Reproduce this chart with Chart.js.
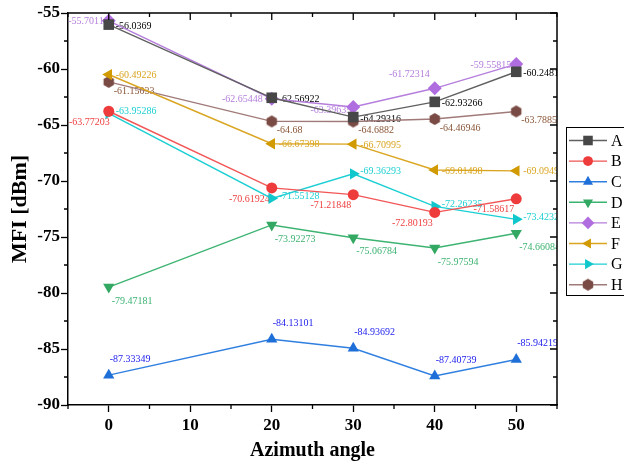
<!DOCTYPE html>
<html><head><meta charset="utf-8">
<script src="https://cdn.jsdelivr.net/npm/chart.js"></script>
<style>html,body{margin:0;padding:0;background:#fff}#wrap{width:624px;height:465px;position:relative}</style>
</head><body><div id="wrap"><canvas id="c" width="624" height="465"></canvas></div>
<script>
const angles = [0, 20, 30, 40, 50];
const seriesNames = ['A', 'B', 'C', 'D', 'E', 'F', 'G', 'H'];
const valuesA = [-56.0369, -62.56922, -64.29316, -62.93266, -60.24812];
const valuesB = [-63.77203, -70.61924, -71.21848, -72.80193, -71.58617];
const valuesC = [-87.33349, -84.13101, -84.93692, -87.40739, -85.94219];
const valuesD = [-79.47181, -73.92273, -75.06784, -75.97594, -74.66084];
const valuesE = [-55.70116, -62.65448, -63.39635, -61.72314, -59.55815];
const valuesF = [-60.49226, -66.67398, -66.70995, -69.01498, -69.09495];
const valuesG = [-63.95286, -71.55128, -69.36293, -72.26235, -73.4232];
const valuesH = [-61.15033, -64.68, -64.6882, -64.46946, -63.78852];
const xTicks = [0, 10, 20, 30, 40, 50];
const yTicks = [-90, -85, -80, -75, -70, -65, -60, -55];
const xTitle = 'Azimuth angle';
const yTitle = 'MFI [dBm]';

const FONT = "'Liberation Serif', 'Times New Roman', serif";

function hexCanvas(r, color) {
  const s = Math.ceil(2 * r + 2);
  const c = document.createElement('canvas');
  c.width = s; c.height = s;
  const g = c.getContext('2d');
  g.fillStyle = color;
  g.beginPath();
  for (let i = 0; i < 6; i++) {
    const a = Math.PI / 3 * i - Math.PI / 2;
    const px = s / 2 + r * Math.cos(a), py = s / 2 + r * Math.sin(a);
    if (i) g.lineTo(px, py); else g.moveTo(px, py);
  }
  g.closePath(); g.fill();
  return c;
}

const allValues = [valuesA, valuesB, valuesC, valuesD, valuesE, valuesF, valuesG, valuesH];
const styles = [
  {line: '#606060', marker: '#474747', text: '#000000', ps: 'rect', rot: 0, r: 7.5, lab: {dx: 7, dy: 2, align: 'left'}},
  {line: '#f25555', marker: '#ee3b3b', text: '#ee4040', ps: 'circle', rot: 0, r: 5.5, lab: {dx: -2, dy: 11, align: 'right', dxAt: {0: 1}}},
  {line: '#2f7fe0', marker: '#1f6fd8', text: '#2222ee', ps: 'triangle', rot: 0, r: 6.5, lab: {dx: 1, dy: -16, align: 'left'}},
  {line: '#3cb371', marker: '#33a862', text: '#3cb371', ps: 'triangle', rot: 180, r: 6.5, lab: {dx: 3, dy: 14, align: 'left'}},
  {line: '#b57edc', marker: '#b06de0', text: '#b57edc', ps: 'rectRot', rot: 0, r: 7, lab: {dx: -5, dy: 1, align: 'right', dxAt: {0: 0, 1: -9, 2: -2}, dyAt: {2: 3, 3: -14}}},
  {line: '#daa520', marker: '#d09a00', text: '#daa520', ps: 'triangle', rot: -90, r: 6.5, lab: {dx: 7, dy: 1, align: 'left'}},
  {line: '#1ccfd3', marker: '#10c8cc', text: '#1ccfd3', ps: 'triangle', rot: 90, r: 6.5, lab: {dx: 7, dy: -2, align: 'left'}},
  {line: '#a07a78', marker: '#7a4a44', text: '#8a5638', ps: hexCanvas(6, '#7a4a44'), rot: 0, r: 6, lab: {dx: 5, dy: 9, align: 'left'}}
];

const datasets = seriesNames.map((name, i) => ({
  label: name,
  data: angles.map((x, j) => ({x: x, y: allValues[i][j]})),
  borderColor: styles[i].line,
  backgroundColor: styles[i].marker,
  pointBackgroundColor: styles[i].marker,
  pointBorderColor: styles[i].marker,
  pointBorderWidth: 0,
  pointStyle: styles[i].ps,
  pointRotation: styles[i].rot,
  pointRadius: styles[i].r,
  pointHoverRadius: styles[i].r,
  borderWidth: 1.4,
  tension: 0,
  showLine: true,
  fill: false
}));

const decorPlugin = {
  id: 'decor',
  beforeDatasetsDraw(chart) {
    const ctx = chart.ctx, ca = chart.chartArea;
    ctx.save();
    ctx.beginPath();
    ctx.rect(ca.left, 0, ca.right - ca.left, chart.height);
    ctx.clip();
    ctx.font = '10px ' + FONT;
    ctx.textBaseline = 'middle';
    chart.data.datasets.forEach((ds, i) => {
      const meta = chart.getDatasetMeta(i);
      const lab = styles[i].lab;
      ctx.fillStyle = styles[i].text;
      ctx.textAlign = lab.align;
      meta.data.forEach((pt, j) => {
        const dy = (lab.dyAt && lab.dyAt[j] !== undefined) ? lab.dyAt[j] : lab.dy;
        const dx = (lab.dxAt && lab.dxAt[j] !== undefined) ? lab.dxAt[j] : lab.dx;
        ctx.fillText(String(ds.data[j].y), pt.x + dx, pt.y + dy);
      });
    });
    ctx.restore();
  },
  afterDraw(chart) {
    const ctx = chart.ctx, ca = chart.chartArea;
    const xs = chart.scales.x, ys = chart.scales.y;
    ctx.save();
    ctx.strokeStyle = '#000';
    ctx.lineWidth = 1.5;
    ctx.beginPath();
    ctx.moveTo(ca.left, ca.top); ctx.lineTo(ca.right, ca.top); ctx.lineTo(ca.right, ca.bottom);
    ctx.stroke();
    ctx.lineWidth = 1.3;
    ctx.beginPath();
    for (let v = -5; v <= 55; v += 5) {
      const px = xs.getPixelForValue(v);
      const major = xTicks.includes(v);
      const L = major ? 7 : 4;
      if (!major) { ctx.moveTo(px, ca.bottom); ctx.lineTo(px, ca.bottom + L); }
      ctx.moveTo(px, ca.top); ctx.lineTo(px, ca.top + L);
    }
    for (let v = -90; v <= -55; v += 2.5) {
      const py = ys.getPixelForValue(v);
      const major = yTicks.includes(v);
      const L = major ? 7 : 4;
      if (!major) { ctx.moveTo(ca.left, py); ctx.lineTo(ca.left - L, py); }
      ctx.moveTo(ca.right, py); ctx.lineTo(ca.right - L, py);
    }
    ctx.stroke();
    const bx = 566.5, by = 127.5, bw = 70, bh = 168;
    ctx.fillStyle = '#fff';
    ctx.fillRect(bx, by, bw, bh);
    ctx.lineWidth = 1;
    ctx.strokeStyle = '#000';
    ctx.strokeRect(bx, by, bw, bh);
    ctx.font = '16px ' + FONT;
    ctx.textBaseline = 'middle';
    ctx.textAlign = 'left';
    chart.data.datasets.forEach((ds, i) => {
      const y = 140.5 + i * 20.6;
      ctx.strokeStyle = styles[i].line;
      ctx.lineWidth = 1.4;
      ctx.beginPath(); ctx.moveTo(569, y); ctx.lineTo(607, y); ctx.stroke();
      ctx.fillStyle = styles[i].marker;
      ctx.strokeStyle = styles[i].marker;
      Chart.helpers.drawPoint(ctx, {pointStyle: styles[i].ps, rotation: styles[i].rot, radius: styles[i].r * 0.9, borderWidth: 0}, 588, y);
      ctx.fillStyle = '#000';
      ctx.fillText(ds.label, 611, y + 1);
    });
    ctx.restore();
  }
};

new Chart(document.getElementById('c'), {
  type: 'scatter',
  data: {datasets: datasets},
  options: {
    responsive: false,
    devicePixelRatio: 1,
    animation: false,
    events: [],
    layout: {padding: {left: 0, right: 67, top: 13, bottom: 0}},
    plugins: {legend: {display: false}, tooltip: {enabled: false}},
    scales: {
      x: {
        type: 'linear', min: -5, max: 55,
        afterBuildTicks: s => { s.ticks = xTicks.map(v => ({value: v})); },
        afterFit: s => { s.height = 60; },
        grid: {drawOnChartArea: false, drawTicks: true, tickLength: 7, tickColor: '#000', tickWidth: 1.3, color: '#000'},
        border: {display: true, color: '#000', width: 1.5},
        ticks: {color: '#000', font: {family: FONT, size: 17, weight: 'bold'}, padding: 3, maxRotation: 0, autoSkip: false},
        title: {display: true, text: xTitle, color: '#000', font: {family: FONT, size: 20, weight: 'bold'}, padding: {top: 0, bottom: 2}}
      },
      y: {
        type: 'linear', min: -90, max: -55,
        afterBuildTicks: s => { s.ticks = yTicks.map(v => ({value: v})); },
        afterFit: s => { s.width = 68; },
        grid: {drawOnChartArea: false, drawTicks: true, tickLength: 7, tickColor: '#000', tickWidth: 1.3, color: '#000'},
        border: {display: true, color: '#000', width: 1.5},
        ticks: {color: '#000', font: {family: FONT, size: 17, weight: 'bold'}, padding: 1, autoSkip: false},
        title: {display: true, text: yTitle, color: '#000', font: {family: FONT, size: 22, weight: 'bold'}, padding: {top: 7, bottom: 0}}
      }
    }
  },
  plugins: [decorPlugin]
});
</script></body></html>
